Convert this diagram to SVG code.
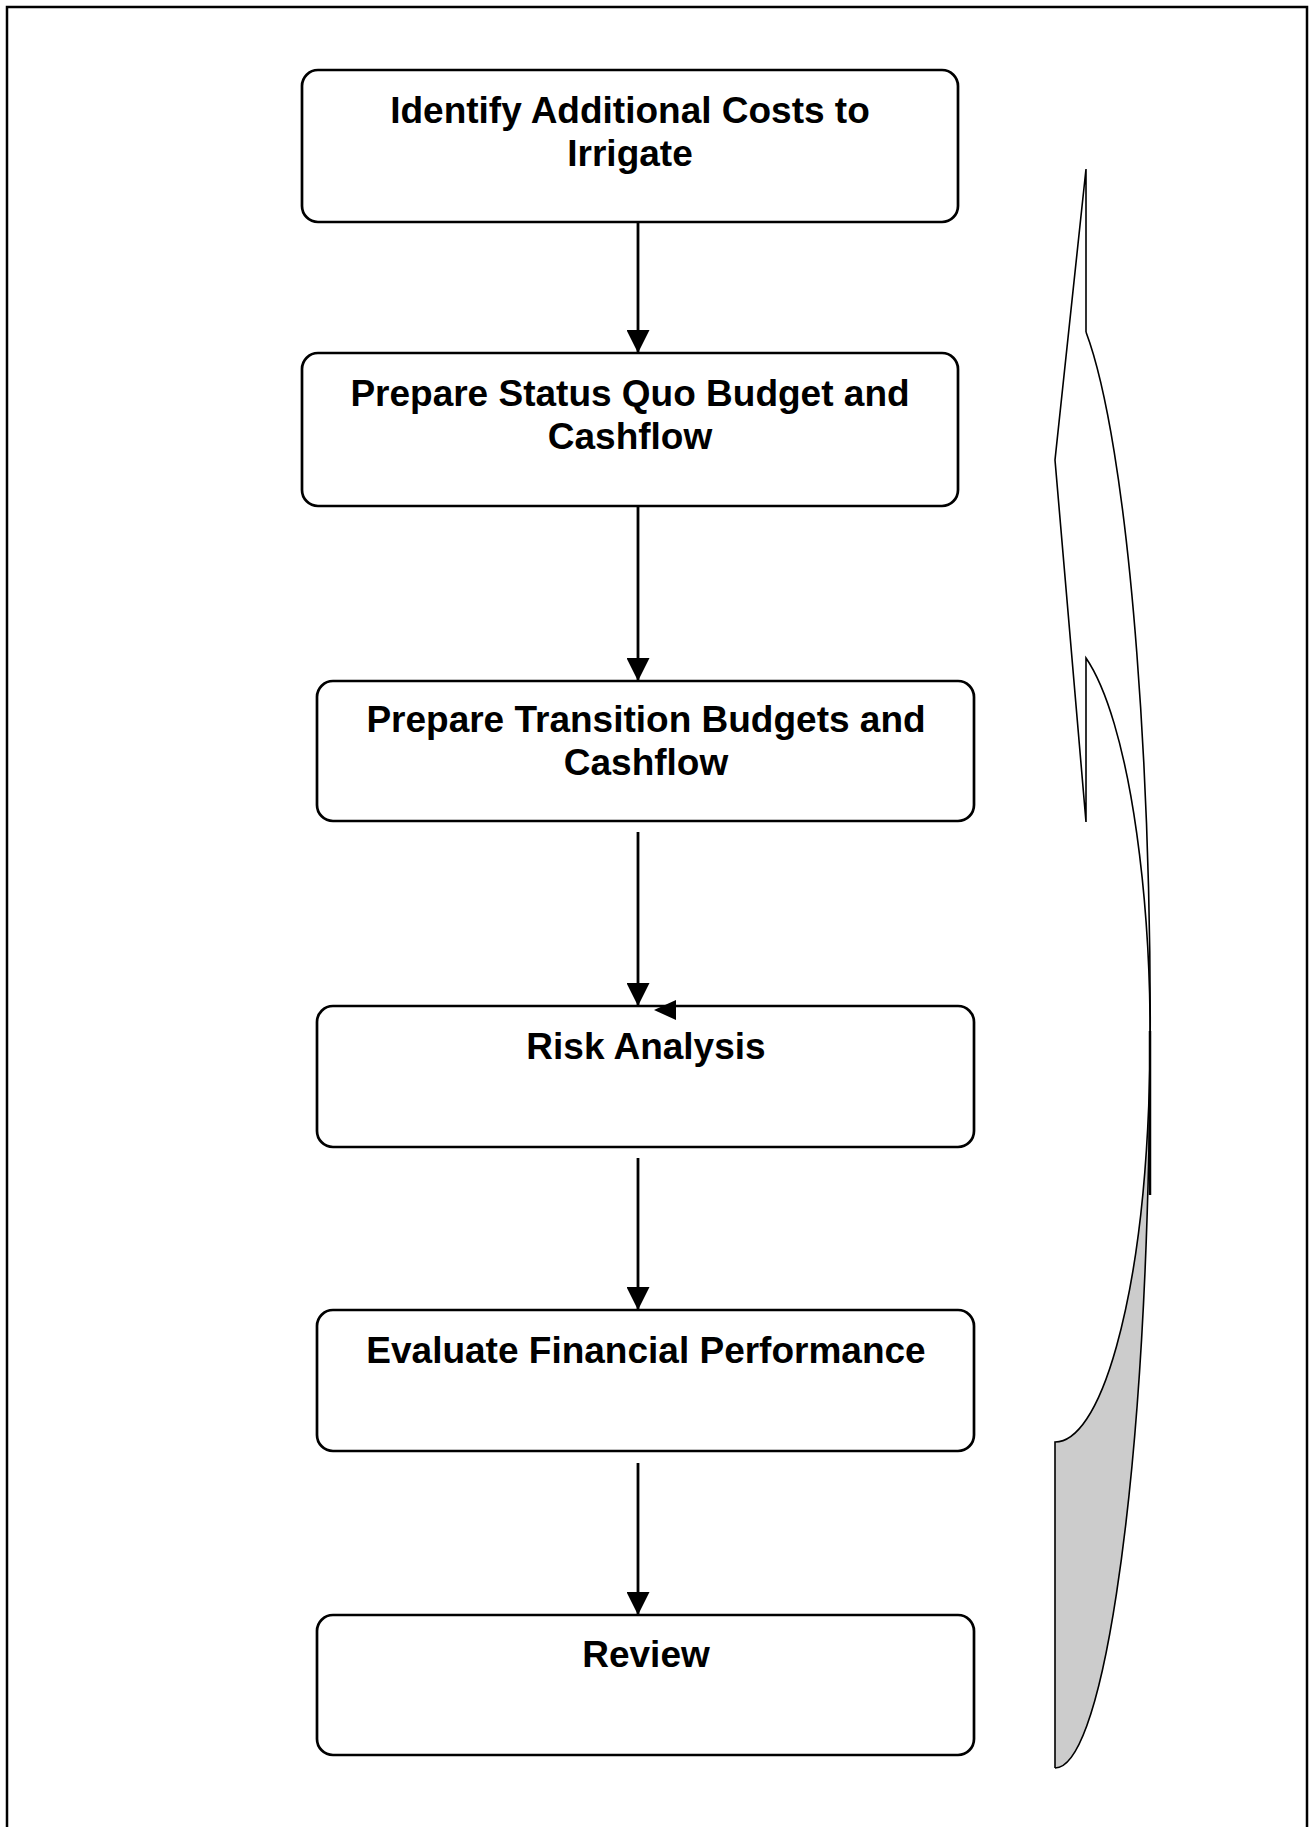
<svg xmlns="http://www.w3.org/2000/svg" width="1310" height="1827" viewBox="0 0 1310 1827">
  <style>
    .box { fill: #ffffff; stroke: #000000; stroke-width: 2.7; }
    .lbl { font-family: "Liberation Sans", Arial, sans-serif; font-weight: bold; font-size: 37px; fill: #000000; text-anchor: middle; }
    .conn { stroke: #000000; stroke-width: 2.8; fill: none; marker-end: url(#head); }
    .shape { stroke: #000000; stroke-width: 1.6; fill: none; stroke-linejoin: miter; }
  </style>
  <defs>
    <marker id="head" markerUnits="userSpaceOnUse" markerWidth="23" markerHeight="23" viewBox="0 0 23 23" refX="23" refY="11.5" orient="auto">
      <path d="M0,0 L23,11.5 L0,23 Z" fill="#000000"/>
    </marker>
  </defs>
  <rect x="0" y="0" width="1310" height="1827" fill="#ffffff"/>
  <rect id="frame" x="7" y="7" width="1300" height="1835" fill="none" stroke="#000000" stroke-width="2.5"/>

  <g id="curved-arrow">
    <path d="M1150,1039 A95,403 0 0 1 1055,1442 L1055,1768 A95,738 0 0 0 1150,1030 Z" fill="#cccccc" stroke="none"/>
    <path class="shape" d="M1086,332 L1086,169 L1055,460 L1086,822 L1086,658 A95,403 0 0 1 1055,1442 L1055,1768"/>
    <path class="shape" d="M1086,332 A95,738 0 0 1 1055,1768"/>
    <line x1="1150" y1="1031" x2="1150" y2="1195" stroke="#000000" stroke-width="2.5"/>
  </g>

  <g id="node-identify">
    <rect class="box" x="302" y="70" width="656" height="152" rx="16" ry="16"/>
    <text class="lbl" x="630" y="123">Identify Additional Costs to</text>
    <text class="lbl" x="630" y="166">Irrigate</text>
  </g>
  <g id="node-status-quo">
    <rect class="box" x="302" y="353" width="656" height="153" rx="16" ry="16"/>
    <text class="lbl" x="630" y="406">Prepare Status Quo Budget and</text>
    <text class="lbl" x="630" y="449">Cashflow</text>
  </g>
  <g id="node-transition">
    <rect class="box" x="317" y="681" width="657" height="140" rx="16" ry="16"/>
    <text class="lbl" x="646" y="732">Prepare Transition Budgets and</text>
    <text class="lbl" x="646" y="775">Cashflow</text>
  </g>
  <g id="node-risk">
    <rect class="box" x="317" y="1006" width="657" height="141" rx="16" ry="16"/>
    <text class="lbl" x="646" y="1059">Risk Analysis</text>
  </g>
  <g id="node-evaluate">
    <rect class="box" x="317" y="1310" width="657" height="141" rx="16" ry="16"/>
    <text class="lbl" x="646" y="1363">Evaluate Financial Performance</text>
  </g>
  <g id="node-review">
    <rect class="box" x="317" y="1615" width="657" height="140" rx="16" ry="16"/>
    <text class="lbl" x="646" y="1667">Review</text>
  </g>

  <g id="connectors">
    <line class="conn" x1="638" y1="222" x2="638" y2="353"/>
    <line class="conn" x1="638" y1="506" x2="638" y2="681"/>
    <line class="conn" x1="638" y1="832" x2="638" y2="1006"/>
    <line class="conn" x1="638" y1="1158" x2="638" y2="1310"/>
    <line class="conn" x1="638" y1="1463" x2="638" y2="1615"/>
    <polygon points="654,1010 676,1000 676,1020" fill="#000000"/>
  </g>
</svg>
